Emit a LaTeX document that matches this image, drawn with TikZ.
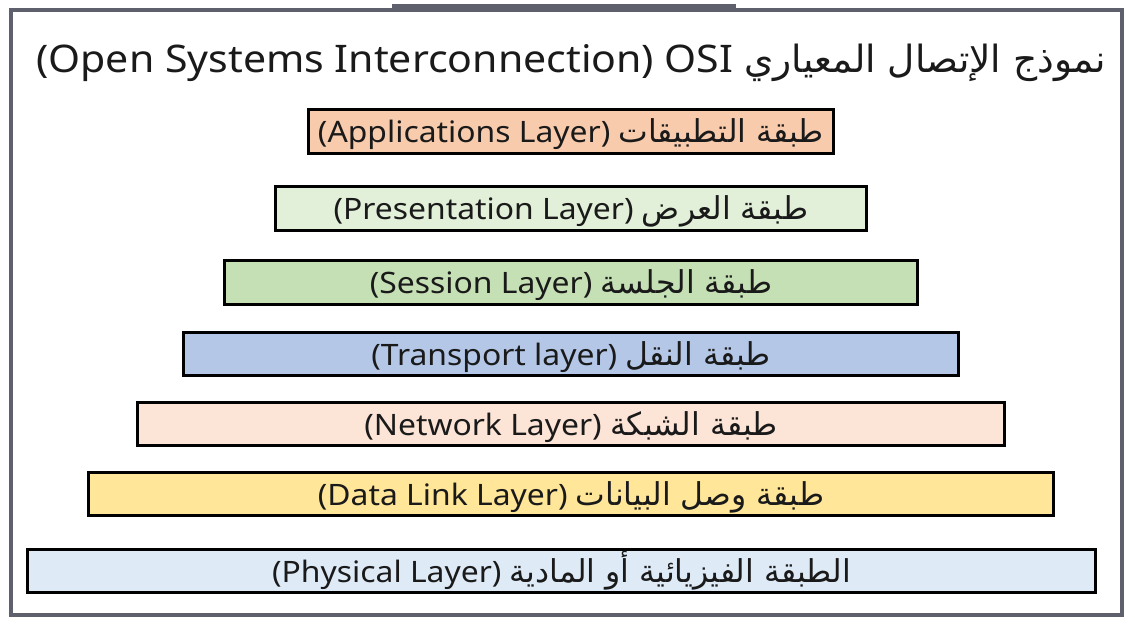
\documentclass[tikz,border=0pt]{standalone}
\usepackage{fontspec}
\setmainfont[FakeStretch=1.08]{Noto Sans}
\newfontfamily\arabicfont[Script=Arabic]{DejaVu Sans}
\TeXXeTstate=1
\definecolor{framegray}{HTML}{5E606D}
\definecolor{appc}{HTML}{F8CBAD}
\definecolor{presc}{HTML}{E2F0D9}
\definecolor{sessc}{HTML}{C5E0B4}
\definecolor{tranc}{HTML}{B4C7E7}
\definecolor{netc}{HTML}{FCE4D6}
\definecolor{datac}{HTML}{FFE699}
\definecolor{physc}{HTML}{DEEBF7}
\definecolor{txt}{HTML}{1A1A1A}
\newcommand{\arB}{\arabicfont\fontsize{31.5}{32}\selectfont}
\newcommand{\arT}{\arabicfont\fontsize{37.5}{40}\selectfont}
\tikzset{
  layerbox/.style={draw=black, line width=3pt, inner sep=0pt, text=txt,
    text height=23pt, text depth=0pt,
    font=\fontsize{29.5}{32}\selectfont},
  titletext/.style={inner sep=0pt, text=txt, anchor=base, font=\fontsize{38}{42}\selectfont}
}
\begin{document}
\begin{tikzpicture}[x=1pt,y=-1pt]
\useasboundingbox[fill=white] (0,0) rectangle (1135,625);
\draw[framegray, line width=4.5pt] (11,10) rectangle (1122,615);
\fill[framegray] (392,4) rectangle (736,12);
\node[titletext] (title) at (571,72) {(Open Systems Interconnection) OSI {\arT\beginR نموذج الإتصال المعياري\endR}};
\node[layerbox, fill=appc, minimum width=525pt, minimum height=44pt] (app) at (571,131) {(Applications Layer) {\arB\beginR طبقة التطبيقات\endR}};
\node[layerbox, fill=presc, minimum width=591pt, minimum height=44pt] (pres) at (571,208) {(Presentation Layer) {\arB\beginR طبقة العرض\endR}};
\node[layerbox, fill=sessc, minimum width=693pt, minimum height=44pt] (sess) at (571,282) {(Session Layer) {\arB\beginR طبقة الجلسة\endR}};
\node[layerbox, fill=tranc, minimum width=775pt, minimum height=43pt] (tran) at (571,353.5) {(Transport layer) {\arB\beginR طبقة النقل\endR}};
\node[layerbox, fill=netc, minimum width=867pt, minimum height=43pt] (net) at (571,423.5) {(Network Layer) {\arB\beginR طبقة الشبكة\endR}};
\node[layerbox, fill=datac, minimum width=965pt, minimum height=43pt] (data) at (571,493.5) {(Data Link Layer) {\arB\beginR طبقة وصل البيانات\endR}};
\node[layerbox, fill=physc, minimum width=1068pt, minimum height=43pt] (phys) at (561.5,570.5) {(Physical Layer) {\arB\beginR الطبقة الفيزيائية أو المادية\endR}};
\end{tikzpicture}
\end{document}
